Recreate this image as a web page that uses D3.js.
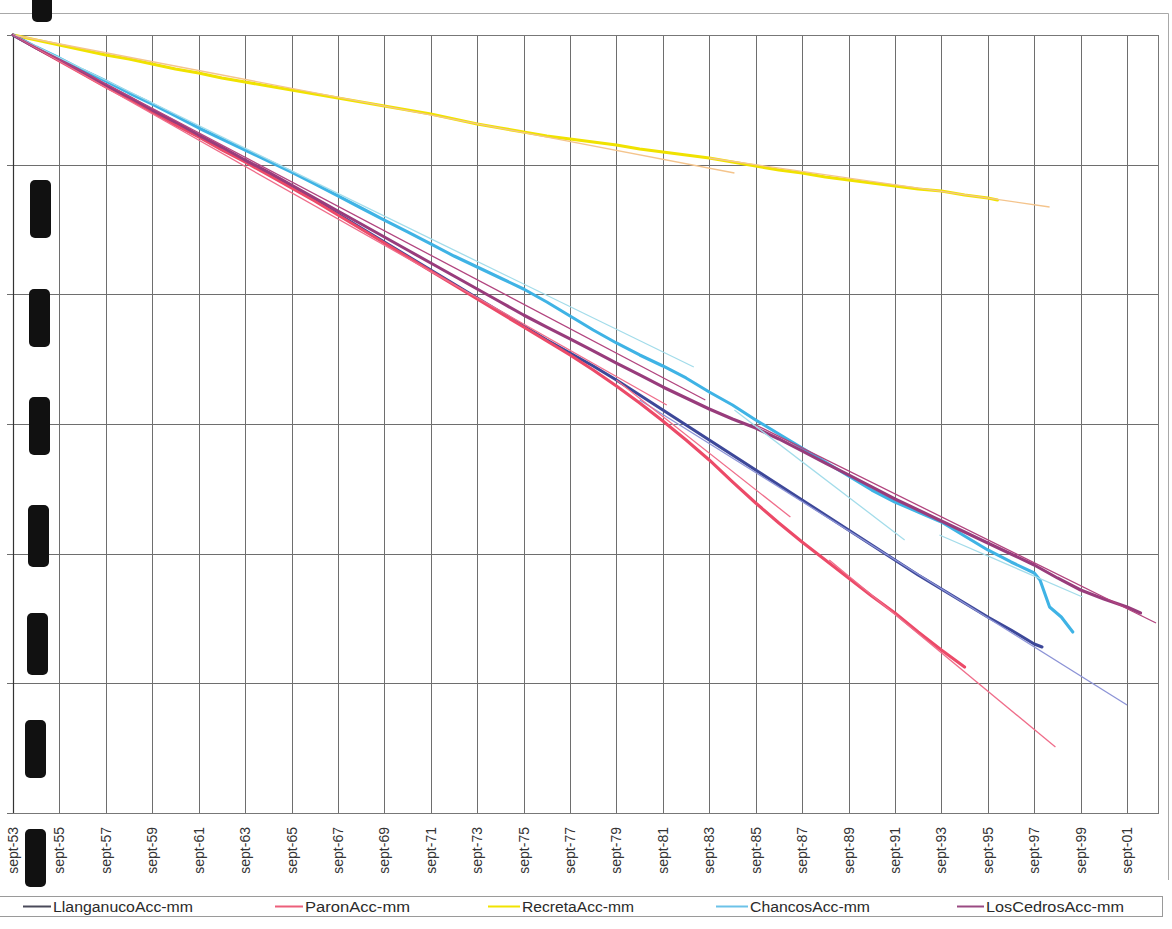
<!DOCTYPE html>
<html>
<head>
<meta charset="utf-8">
<script src="https://cdn.jsdelivr.net/npm/d3@7"></script>
<style>
  html, body { margin: 0; padding: 0; background: #fff; }
  svg { display: block; }
  text { font-family: "Liberation Sans", Arial, sans-serif; }
</style>
</head>
<body>
<svg id="chart" width="1172" height="929"></svg>
<script>
// ---- accumulated series, one reading per September, starting sept-53 ----
const firstYear = 1953;

const llanganuco = [0, -501, -964, -1465, -1967, -2429, -2931, -3432, -3895, -4396,
  -4859, -5360, -5861, -6362, -6902, -7442, -7982, -8522, -9062, -9601,
  -10141, -10681, -11221, -11761, -12262, -12763, -13303, -13882, -14460, -15038,
  -15617, -16195, -16774, -17352, -17930, -18509, -19087, -19666, -20244, -20822,
  -21362, -21902, -22442, -22943, -23483];
const llanganucoEnd = [["1998-01", -23599]];

const paron = [0, -501, -1003, -1504, -2005, -2468, -2969, -3470, -3933, -4434,
  -4897, -5398, -5900, -6401, -6941, -7481, -8020, -8560, -9100, -9640,
  -10180, -10720, -11260, -11799, -12339, -12918, -13535, -14190, -14884, -15617,
  -16388, -17236, -18046, -18817, -19550, -20244, -20938, -21632, -22287, -23020,
  -23714, -24370];
const paronEnd = [];

const recreta = [0, -193, -386, -578, -771, -925, -1118, -1311, -1465, -1658,
  -1812, -1967, -2121, -2275, -2429, -2584, -2738, -2892, -3046, -3239,
  -3432, -3586, -3740, -3895, -4010, -4126, -4242, -4396, -4512, -4627,
  -4743, -4897, -5051, -5206, -5321, -5476, -5591, -5707, -5823, -5938,
  -6015, -6170, -6285];
const recretaEnd = [["1996-02", -6362]];

const chancos = [0, -463, -887, -1350, -1774, -2236, -2661, -3123, -3586, -4010,
  -4434, -4859, -5283, -5745, -6208, -6671, -7134, -7596, -8059, -8522,
  -8946, -9370, -9794, -10296, -10835, -11375, -11876, -12339, -12763, -13226,
  -13766, -14267, -14846, -15385, -15925, -16465, -17005, -17545, -18008, -18393,
  -18779, -19319, -19858, -20321, -20745];
const chancosEnd = [["1997-12", -21015], ["1998-05", -22056], ["1998-11", -22442], ["1999-05", -23021]];

const losCedros = [0, -501, -964, -1427, -1928, -2391, -2892, -3355, -3856, -4319,
  -4820, -5283, -5784, -6285, -6787, -7288, -7789, -8290, -8792, -9293,
  -9794, -10296, -10797, -11260, -11722, -12185, -12648, -13110, -13573, -13997,
  -14421, -14807, -15154, -15578, -16041, -16504, -16966, -17429, -17892, -18316,
  -18740, -19164, -19588, -20013, -20437, -20938, -21401, -21748, -22056];
const losCedrosEnd = [["2002-04", -22288]];

// ---- linear trend segments fitted to each series ----
const llanganucoTrend = [[["1980-09", -14074], ["2001-09", -25835]]];
const paronTrend = [
  [["1953-09", 0], ["1981-11", -14267]],
  [["1979-09", -13303], ["1987-03", -18586]],
  [["1988-11", -20244], ["1998-08", -27455]]
];
const recretaTrend = [
  [["1953-09", 0], ["1984-10", -5321]],
  [["1983-09", -4743], ["1998-05", -6632]]
];
const chancosTrend = [
  [["1953-09", 0], ["1983-01", -12802]],
  [["1984-10", -14460], ["1992-02", -19473]],
  [["1993-08", -19280], ["1999-10", -21671]]
];
const losCedrosTrend = [
  [["1953-09", 0], ["1983-07", -14074]],
  [["1985-09", -15038], ["2002-12", -22673]]
];

// ---- axis ticks ----
const tickYears = d3.range(1953, 2002, 2);
const yTicks = [0, -5000, -10000, -15000, -20000, -25000, -30000];

const seriesNames = ["LlanganucoAcc-mm", "ParonAcc-mm", "RecretaAcc-mm", "ChancosAcc-mm", "LosCedrosAcc-mm"];
const seriesValues = [llanganuco, paron, recreta, chancos, losCedros];
const seriesEnds = [llanganucoEnd, paronEnd, recretaEnd, chancosEnd, losCedrosEnd];
const seriesTrends = [llanganucoTrend, paronTrend, recretaTrend, chancosTrend, losCedrosTrend];

// ---- styling ----
const lineColors  = ["#3d4899", "#ec4a68", "#f0e200", "#3fb3e5", "#983c7c"];
const trendColors = ["#8c93d6", "#ef6d8a", "#f4c48c", "#a3dcea", "#b2457f"];
const legendSwatch = ["#4a4a5a", "#ec5f7a", "#f1e300", "#6cc2e8", "#9a4a82"];

const svg = d3.select("#chart");
const plot = { left: 13, top: 35, right: 1158, bottom: 813 };

const parseMonth = d3.timeParse("%Y-%m");
const sept = y => new Date(y, 8, 1);

const x = d3.scaleTime()
  .domain([sept(1953), new Date(2003, 0, 1)])
  .range([plot.left, plot.right]);
const y = d3.scaleLinear()
  .domain([0, -30000])
  .range([plot.top, plot.bottom]);

// outer chart frame (top and right edges)
svg.append("path")
  .attr("d", `M0,13.5 H1168.5 V880`)
  .attr("fill", "none").attr("stroke", "#a8a8a8").attr("stroke-width", 1);

// vertical grid
const grid = svg.append("g");
grid.selectAll("line.vx").data(tickYears).join("line")
  .attr("class", "vx")
  .attr("x1", d => Math.round(x(sept(d))) + 0.5).attr("x2", d => Math.round(x(sept(d))) + 0.5)
  .attr("y1", plot.top).attr("y2", plot.bottom)
  .attr("stroke", "#6e6e6e").attr("stroke-width", 1);

// horizontal grid + left ticks
grid.selectAll("line.hy").data(yTicks).join("line")
  .attr("class", "hy")
  .attr("x1", plot.left - 6).attr("x2", plot.right)
  .attr("y1", d => Math.round(y(d)) + 0.5).attr("y2", d => Math.round(y(d)) + 0.5)
  .attr("stroke", "#6e6e6e").attr("stroke-width", 1);

// plot border
svg.append("rect")
  .attr("x", plot.left + 0.5).attr("y", plot.top + 0.5)
  .attr("width", plot.right - plot.left).attr("height", plot.bottom - plot.top)
  .attr("fill", "none").attr("stroke", "#777").attr("stroke-width", 1);
svg.append("line")
  .attr("x1", plot.left + 0.5).attr("x2", plot.left + 0.5)
  .attr("y1", plot.top).attr("y2", plot.bottom)
  .attr("stroke", "#333").attr("stroke-width", 1.2);

// x tick labels (rotated)
const fmtYear = d3.timeFormat("%y");
svg.append("g").selectAll("text").data(tickYears).join("text")
  .attr("transform", d => `translate(${x(sept(d)) + 5},827) rotate(-90)`)
  .attr("text-anchor", "end")
  .attr("font-size", 14)
  .attr("fill", "#333")
  .text(d => "sept-" + fmtYear(sept(d)));

// series data
const seriesData = seriesValues.map((vals, i) => {
  const pts = vals.map((v, k) => ({ date: sept(firstYear + k), value: v }));
  seriesEnds[i].forEach(([d, v]) => pts.push({ date: parseMonth(d), value: v }));
  return pts;
});

const line = d3.line().x(d => x(d.date)).y(d => y(d.value));

const gData = svg.append("g");
seriesData.forEach((pts, i) => {
  gData.append("path")
    .datum(pts)
    .attr("d", line)
    .attr("fill", "none")
    .attr("stroke", lineColors[i])
    .attr("stroke-width", 3.1)
    .attr("stroke-linejoin", "round")
    .attr("stroke-linecap", "round");
});

// trend lines
const trendLine = d3.line().x(d => x(parseMonth(d[0]))).y(d => y(d[1]));
const gTrend = svg.append("g");
seriesTrends.forEach((segs, i) => {
  segs.forEach(seg => {
    gTrend.append("path")
      .attr("d", trendLine(seg))
      .attr("fill", "none")
      .attr("stroke", trendColors[i])
      .attr("stroke-width", 1.3);
  });
});

// redaction blocks over the value labels
const blocks = [
  [32, -6, 20, 28], [30, 180, 21, 58], [29, 289, 21, 58], [29, 397, 21, 58],
  [28, 505, 21, 62], [27, 613, 21, 62], [25, 720, 21, 58], [25, 829, 21, 58]
];
svg.append("g").selectAll("rect").data(blocks).join("rect")
  .attr("x", d => d[0]).attr("y", d => d[1])
  .attr("width", d => d[2]).attr("height", d => d[3])
  .attr("rx", 5).attr("ry", 5)
  .attr("fill", "#111");

// legend
const legend = svg.append("g");
legend.append("rect")
  .attr("x", -1).attr("y", 896.5).attr("width", 1163.5).attr("height", 20)
  .attr("fill", "#fff").attr("stroke", "#9a9a9a").attr("stroke-width", 1);
const legendX = [23, 275, 488, 716, 957];
const legendSwatchW = [28, 28, 32, 32, 27];
const legendTextW = [140, 105, 112, 120, 138];
seriesNames.forEach((name, i) => {
  legend.append("line")
    .attr("x1", legendX[i]).attr("x2", legendX[i] + legendSwatchW[i])
    .attr("y1", 906.5).attr("y2", 906.5)
    .attr("stroke", legendSwatch[i]).attr("stroke-width", 2);
  legend.append("text")
    .attr("x", legendX[i] + legendSwatchW[i] + 2)
    .attr("y", 912)
    .attr("font-size", 14)
    .attr("fill", "#2a2a2a")
    .attr("textLength", legendTextW[i])
    .attr("lengthAdjust", "spacingAndGlyphs")
    .text(name);
});
</script>
</body>
</html>
